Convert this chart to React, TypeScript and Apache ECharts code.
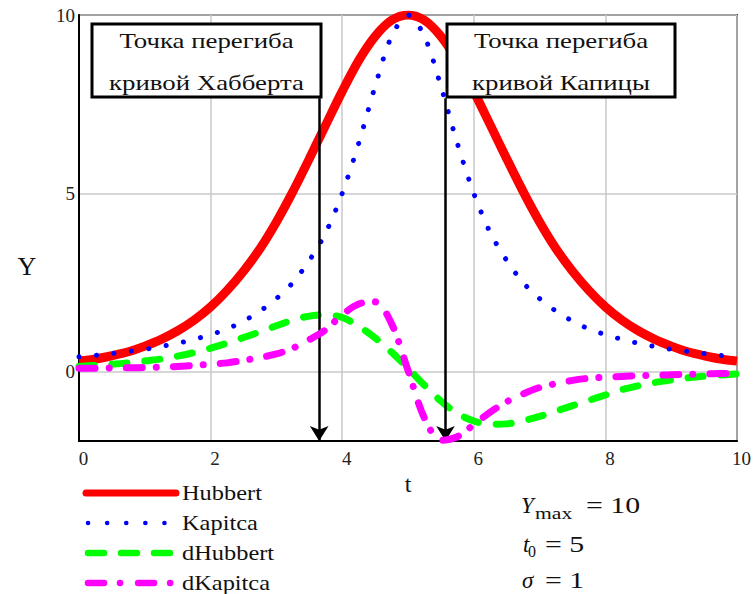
import { useEffect, useRef } from "react";
import * as echarts from "echarts";

// Time axis samples (t)
const T = [
  0, 0.25, 0.5, 0.75, 1, 1.25, 1.5, 1.75, 2, 2.25, 2.5, 2.75, 3, 3.25, 3.5, 3.75, 4, 4.25, 4.5, 4.75,
  5, 5.25, 5.5, 5.75, 6, 6.25, 6.5, 6.75, 7, 7.25, 7.5, 7.75, 8, 8.25, 8.5, 8.75, 9, 9.25, 9.5, 9.75, 10,
];

// Hubbert curve
const hubbert = [
  0.3, 0.36, 0.45, 0.56, 0.72, 0.91, 1.15, 1.45, 1.82, 2.28, 2.82, 3.45, 4.2, 5.05, 5.97, 6.92, 7.86, 8.72, 9.4, 9.85,
  10, 9.85, 9.4, 8.72, 7.86, 6.92, 5.97, 5.05, 4.2, 3.45, 2.82, 2.28, 1.82, 1.45, 1.15, 0.91, 0.72, 0.56, 0.45, 0.36, 0.3,
];

// Kapitca curve
const kapitca = [
  0.42, 0.46, 0.51, 0.57, 0.63, 0.71, 0.8, 0.91, 1.04, 1.2, 1.42, 1.7, 2.05, 2.5, 3.12, 3.9, 5.0, 6.4, 8.0, 9.4,
  10, 9.4, 8.0, 6.4, 5.0, 3.9, 3.12, 2.5, 2.05, 1.7, 1.42, 1.2, 1.04, 0.91, 0.8, 0.71, 0.63, 0.57, 0.51, 0.46, 0.42,
];

// Rate of change of the Hubbert curve
const dHubbert = [
  0.15, 0.18, 0.21, 0.25, 0.3, 0.36, 0.44, 0.54, 0.66, 0.8, 0.96, 1.12, 1.29, 1.45, 1.56, 1.6, 1.52, 1.28, 0.95, 0.55,
  0.1, -0.38, -0.82, -1.17, -1.38, -1.47, -1.46, -1.37, -1.25, -1.1, -0.95, -0.8, -0.65, -0.5, -0.39, -0.3, -0.23, -0.17,
  -0.12, -0.09, -0.06,
];

// Rate of change of the Kapitca curve
const dKapitca = [
  0.1, 0.1, 0.11, 0.11, 0.12, 0.13, 0.15, 0.18, 0.21, 0.25, 0.32, 0.4, 0.5, 0.66, 0.9, 1.18, 1.6, 1.9, 1.96, 1.35,
  0.04, -1.3, -1.92, -1.82, -1.48, -1.13, -0.84, -0.62, -0.44, -0.33, -0.24, -0.18, -0.15, -0.13, -0.11, -0.1, -0.08,
  -0.07, -0.06, -0.05, -0.04,
];

const SERIES_NAMES = ["Hubbert", "Kapitca", "dHubbert", "dKapitca"];
const SERIES_VALUES = [hubbert, kapitca, dHubbert, dKapitca];

const X_MIN = 0;
const X_MAX = 10;
const X_INTERVAL = 2;
const Y_MIN = -1.94;
const Y_MAX = 10;
const Y_TICKS = [0, 5, 10];

// Inflection points marked with arrows
const INFLECTIONS = [3.65, 5.57];
const ARROW_TOP = 7.67;

const NOTES = [
  ["Точка перегиба", "кривой Хабберта"],
  ["Точка перегиба", "кривой Капицы"],
];

const FONT = "'Liberation Serif', 'Times New Roman', serif";
const COLORS = ["#ff0000", "#0000ff", "#00ff00", "#ff00ff"];

const LINE_STYLES = [
  { width: 9, type: "solid", cap: "butt" },
  { width: 5, type: [0.1, 17.5], cap: "round" },
  { width: 7, type: [15, 18], cap: "round" },
  { width: 7, type: [16, 14, 0.1, 17], cap: "round" },
];

const LEGEND_STYLES = [
  { x1: 86, x2: 176, width: 7, dash: null as number[] | null },
  { x1: 88, x2: 166, width: 4.5, dash: [0.1, 19] },
  { x1: 88, x2: 172, width: 6.5, dash: [16, 17] },
  { x1: 88, x2: 172, width: 6.5, dash: [16, 16, 0.1, 18] },
];

function buildGraphic() {
  const g: any[] = [];

  // Annotation boxes
  const boxes = [
    { x: 92, y: 24, w: 229, h: 73 },
    { x: 447, y: 24, w: 228, h: 73 },
  ];
  boxes.forEach((b, i) => {
    g.push({
      type: "rect",
      z: 100,
      shape: { x: b.x, y: b.y, width: b.w, height: b.h },
      style: { fill: "#fff", stroke: "#000", lineWidth: 3 },
    });
    NOTES[i].forEach((line, k) => {
      g.push({
        type: "text",
        z: 101,
        x: b.x + b.w / 2,
        y: k === 0 ? 40 : 82,
        scaleX: 1.22,
        style: {
          text: line,
          fontFamily: FONT,
          fontSize: 22,
          fill: "#111",
          align: "center",
          verticalAlign: "middle",
        },
      });
    });
  });

  // Legend
  const rows = [493, 523, 553, 583];
  SERIES_NAMES.forEach((name, i) => {
    const s = LEGEND_STYLES[i];
    g.push({
      type: "line",
      shape: { x1: s.x1, y1: rows[i], x2: s.x2, y2: rows[i] },
      style: {
        stroke: COLORS[i],
        lineWidth: s.width,
        lineDash: s.dash,
        lineCap: "round",
      },
    });
    g.push({
      type: "text",
      x: 182,
      y: rows[i],
      scaleX: 1.22,
      style: {
        text: name,
        fontFamily: FONT,
        fontSize: 20,
        fill: "#111",
        align: "left",
        verticalAlign: "middle",
      },
    });
  });

  // Parameters
  const txt = (text: string, x: number, y: number, size: number, italic: boolean, sx = 1) => ({
    type: "text",
    x,
    y,
    scaleX: sx,
    style: {
      text,
      fontFamily: FONT,
      fontSize: size,
      fontStyle: italic ? "italic" : "normal",
      fill: "#111",
      align: "left",
      verticalAlign: "middle",
    },
  });
  g.push(txt("Y", 521, 505, 23, true));
  g.push(txt("max", 535, 514, 16, false, 1.35));
  g.push(txt("= 10", 586, 505, 23, false, 1.3));
  g.push(txt("t", 523, 544, 23, true));
  g.push(txt("0", 528, 551, 16, false));
  g.push(txt("= 5", 545, 544, 23, false, 1.3));
  g.push(txt("σ", 522, 580, 23, true));
  g.push(txt("= 1", 545, 580, 23, false, 1.3));

  // Axis names
  g.push({
    type: "text",
    x: 27,
    y: 266,
    style: {
      text: "Y",
      fontFamily: FONT,
      fontSize: 26,
      fill: "#111",
      align: "center",
      verticalAlign: "middle",
    },
  });
  g.push({
    type: "text",
    x: 408,
    y: 484,
    style: {
      text: "t",
      fontFamily: FONT,
      fontSize: 24,
      fill: "#111",
      align: "center",
      verticalAlign: "middle",
    },
  });

  return g;
}

export default function App() {
  const ref = useRef<HTMLDivElement>(null);

  useEffect(() => {
    if (!ref.current) return;
    const chart = echarts.init(ref.current, undefined, { renderer: "svg" });

    const series: any[] = SERIES_NAMES.map((name, i) => ({
      name,
      type: "line",
      data: T.map((t, j) => [t, SERIES_VALUES[i][j]]),
      showSymbol: false,
      symbol: "none",
      smooth: 0.3,
      clip: true,
      lineStyle: {
        color: COLORS[i],
        width: LINE_STYLES[i].width,
        type: LINE_STYLES[i].type,
        cap: LINE_STYLES[i].cap,
        join: "round",
      },
      z: 2 + i,
    }));

    // Arrows pointing at the inflection points
    series[0].markLine = {
      silent: true,
      symbol: ["none", "arrow"],
      symbolSize: [14, 15],
      label: { show: false },
      lineStyle: { color: "#000", width: 2.5, type: "solid" },
      emphasis: { disabled: true },
      data: INFLECTIONS.map((x) => [
        { coord: [x, ARROW_TOP] },
        { coord: [x, Y_MIN] },
      ]),
    };

    chart.setOption({
      animation: false,
      backgroundColor: "#fff",
      grid: {
        left: 79,
        right: 16,
        top: 15,
        bottom: 153,
        show: true,
        borderColor: "#333",
        borderWidth: 2,
        backgroundColor: "transparent",
      },
      xAxis: {
        type: "value",
        min: X_MIN,
        max: X_MAX,
        interval: X_INTERVAL,
        axisLine: { show: true, onZero: false, lineStyle: { color: "#000", width: 2 } },
        axisTick: { show: false },
        axisLabel: {
          fontFamily: FONT,
          fontSize: 19,
          color: "#222",
          margin: 8,
          padding: [0, 0, 0, 9],
        },
        splitLine: { show: true, lineStyle: { color: "#c8c8c8", width: 1.5 } },
      },
      yAxis: {
        type: "value",
        min: Y_MIN,
        max: Y_MAX,
        axisLine: { show: true, onZero: false, lineStyle: { color: "#000", width: 2 } },
        axisTick: { show: false, customValues: Y_TICKS },
        axisLabel: {
          customValues: Y_TICKS,
          fontFamily: FONT,
          fontSize: 19,
          color: "#222",
          margin: 4,
        },
        splitLine: { show: true, lineStyle: { color: "#c8c8c8", width: 1.5 } },
      },
      series,
      graphic: buildGraphic(),
    });

    return () => chart.dispose();
  }, []);

  return (
    <div
      ref={ref}
      style={{ position: "fixed", left: 0, top: 0, width: 754, height: 594, background: "#fff" }}
    />
  );
}
